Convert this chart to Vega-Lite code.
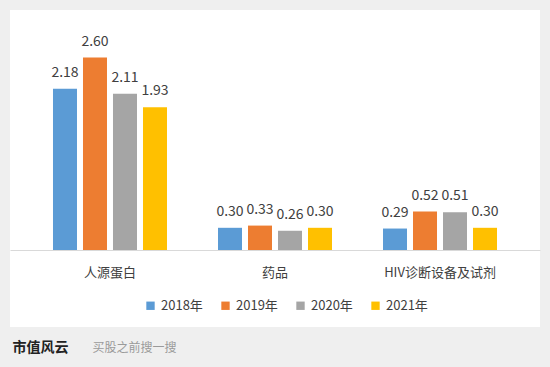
{
  "$schema": "https://vega.github.io/schema/vega-lite/v6.json",
  "width": 530,
  "height": 317,
  "autosize": {"type": "none"},
  "padding": {"left": 10, "top": 10, "right": 10, "bottom": 40},
  "background": "#efefef",
  "config": {
    "view": {"fill": "white", "stroke": null},
    "font": "Noto Sans CJK SC"
  },
  "data": {
    "values": [
      {"category": "人源蛋白", "year": "2018年", "value": 2.18},
      {"category": "人源蛋白", "year": "2019年", "value": 2.60},
      {"category": "人源蛋白", "year": "2020年", "value": 2.11},
      {"category": "人源蛋白", "year": "2021年", "value": 1.93},
      {"category": "药品", "year": "2018年", "value": 0.30},
      {"category": "药品", "year": "2019年", "value": 0.33},
      {"category": "药品", "year": "2020年", "value": 0.26},
      {"category": "药品", "year": "2021年", "value": 0.30},
      {"category": "HIV诊断设备及试剂", "year": "2018年", "value": 0.29},
      {"category": "HIV诊断设备及试剂", "year": "2019年", "value": 0.52},
      {"category": "HIV诊断设备及试剂", "year": "2020年", "value": 0.51},
      {"category": "HIV诊断设备及试剂", "year": "2021年", "value": 0.30}
    ]
  },
  "encoding": {
    "x": {
      "field": "category",
      "type": "nominal",
      "sort": ["人源蛋白", "药品", "HIV诊断设备及试剂"],
      "scale": {"paddingInner": 0, "paddingOuter": 0.106},
      "axis": {
        "orient": "bottom",
        "offset": -77,
        "title": "市值风云",
        "titleX": 2,
        "titleY": 97,
        "titleAlign": "left",
        "titleBaseline": "middle",
        "titleFontSize": 14,
        "titleFontWeight": "bold",
        "titleColor": "#222222",
        "labelAngle": 0,
        "labelFontSize": 13,
        "labelColor": "#404040",
        "labelPadding": 16,
        "ticks": false,
        "domainColor": "#d9d9d9",
        "domainWidth": 1
      }
    },
    "xOffset": {
      "field": "year",
      "type": "nominal",
      "scale": {"paddingInner": 0.2, "paddingOuter": 0.85}
    },
    "y": {
      "field": "value",
      "type": "quantitative",
      "scale": {"domain": [-1.0405, 3.2432], "nice": false, "zero": false},
      "axis": {
        "labels": false,
        "ticks": false,
        "domain": false,
        "grid": false,
        "title": "买股之前搜一搜",
        "titleAngle": 0,
        "titleX": 82,
        "titleY": 337,
        "titleAlign": "left",
        "titleBaseline": "middle",
        "titleFontSize": 12,
        "titleFontWeight": "normal",
        "titleColor": "#9a9a9a"
      }
    }
  },
  "layer": [
    {
      "mark": {"type": "bar"},
      "encoding": {
        "y2": {"datum": 0},
        "color": {
          "field": "year",
          "type": "nominal",
          "scale": {
            "domain": ["2018年", "2019年", "2020年", "2021年"],
            "range": ["#5B9BD5", "#ED7D31", "#A5A5A5", "#FFC000"]
          },
          "legend": {
            "orient": "none",
            "legendX": 134,
            "legendY": 289,
            "direction": "horizontal",
            "title": null,
            "symbolType": "square",
            "symbolSize": 70,
            "symbolStrokeWidth": 0,
            "labelFontSize": 13,
            "labelColor": "#404040",
            "columnPadding": 16
          }
        }
      }
    },
    {
      "mark": {"type": "text", "baseline": "bottom", "dy": -9, "fontSize": 14, "color": "#404040"},
      "encoding": {
        "text": {"field": "value", "type": "quantitative", "format": ".2f"}
      }
    }
  ]
}
